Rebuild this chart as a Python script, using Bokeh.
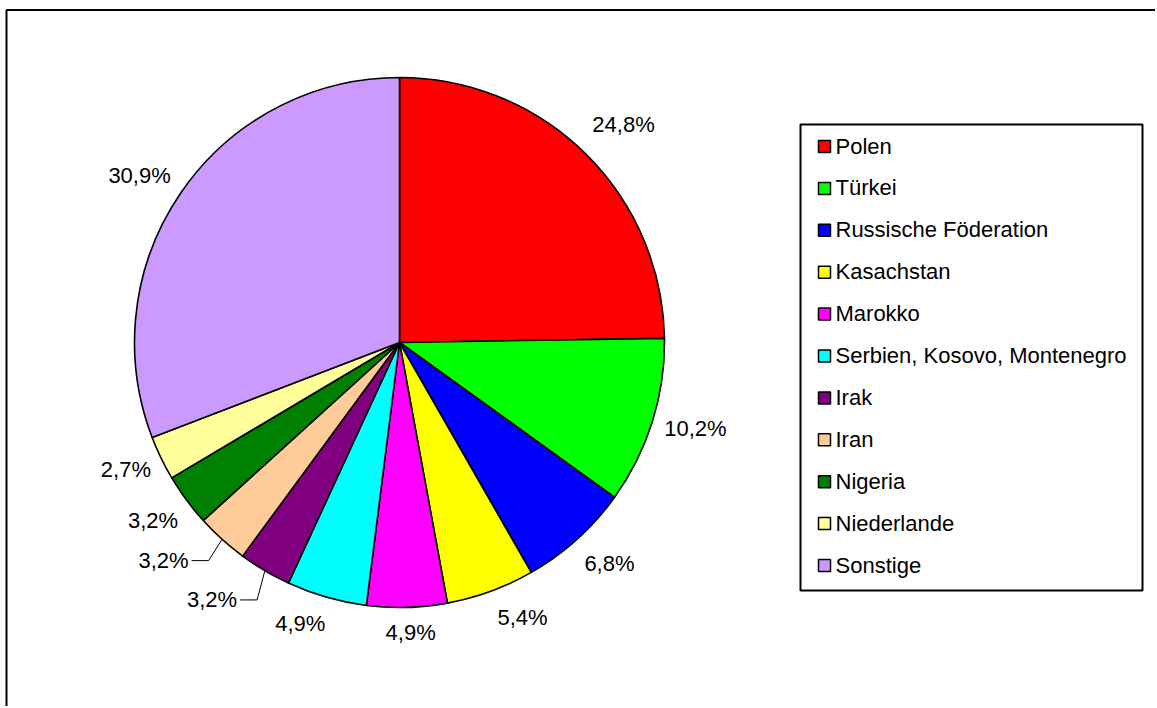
import math
from bokeh.plotting import figure
from bokeh.models import Range1d
from bokeh.core.properties import value
from bokeh.embed import file_html
from bokeh.resources import INLINE

# ---- data ----
countries = ["Polen", "Türkei", "Russische Föderation", "Kasachstan", "Marokko",
             "Serbien, Kosovo, Montenegro", "Irak", "Iran", "Nigeria",
             "Niederlande", "Sonstige"]
shares = [24.8, 10.2, 6.8, 5.4, 4.9, 4.9, 3.2, 3.2, 3.2, 2.7, 30.9]
colors = ["#FF0000", "#00FF00", "#0000FF", "#FFFF00", "#FF00FF", "#00FFFF",
          "#800080", "#FFCC99", "#008000", "#FFFF99", "#CC99FF"]

# ---- layout (pixel-like coordinates; y is negated screen y) ----
W, H = 1155, 706
CX, CY, R = 399, -342, 265
FONT = value("Liberation Sans")
FS = "22px"
PX = 22.0
# label nudges (screen px, dx right, dy down)
nudges = [(8, 1), (-2, -8), (7, -4), (21, -4), (3, 1), (-18, -3),
          (-35, -1), (-33, -7), (-1, -3), (2, -7), (-4, 9)]
leaders = [False] * 6 + [True, True] + [False] * 3

labels = [("%.1f%%" % s).replace(".", ",") for s in shares]
cw = {c: 0.556 for c in "0123456789"}
cw[","] = 0.278
cw["%"] = 0.889

p = figure(width=W, height=H, output_backend="svg", toolbar_location=None,
           x_range=Range1d(0, W), y_range=Range1d(-H, 0),
           min_border=0)
p.axis.visible = False
p.grid.visible = False
p.outline_line_color = None
p.background_fill_color = "white"
p.border_fill_color = "white"

total = sum(shares)
starts, ends = [], []
cum = 0.0
for s in shares:
    a0 = math.pi / 2 - 2 * math.pi * cum / total
    cum += s
    a1 = math.pi / 2 - 2 * math.pi * cum / total
    starts.append(a0)
    ends.append(a1)

p.wedge(x=CX, y=CY, radius=R, start_angle=starts, end_angle=ends,
        direction="clock", fill_color=colors, line_color="black", line_width=1.6)

lx, ly = [], []
for i, s in enumerate(shares):
    mid = (starts[i] + ends[i]) / 2
    ux, uy = math.cos(mid), math.sin(mid)
    w = sum(cw[c] for c in labels[i]) * PX
    h = 17
    d = 280 + w / 2 * abs(ux) + h / 2 * abs(uy)
    x = CX + d * ux + nudges[i][0]
    y = CY + d * uy - nudges[i][1]
    lx.append(x)
    ly.append(y)
    if leaders[i]:
        sx = x + w / 2 + 3
        kx = sx + 17
        ex, ey = CX + R * ux, CY + R * uy
        p.line([sx, kx, ex], [y, y, ey], line_color="black", line_width=1)

p.text(x=lx, y=ly, text=labels, text_align="center", text_baseline="middle",
       text_font=FONT, text_font_size=FS, text_color="black")

# legend
p.quad(left=800, right=1142, top=-124, bottom=-590, fill_color=None,
       line_color="black", line_width=2)
ys = [-(145.5 + 41.9 * i) for i in range(len(countries))]
p.rect(x=824, y=[y - 0.5 for y in ys], width=12, height=12, fill_color=colors,
       line_color="black", line_width=1.5)
p.text(x=835, y=ys, text=countries, text_align="left", text_baseline="middle",
       text_font=FONT, text_font_size=FS, text_color="black")

# outer frame (left and top edges)
p.line([6, 6, W], [-H, -9.5, -9.5], line_color="black", line_width=2)

open("out.html", "w").write(file_html(p, INLINE))
